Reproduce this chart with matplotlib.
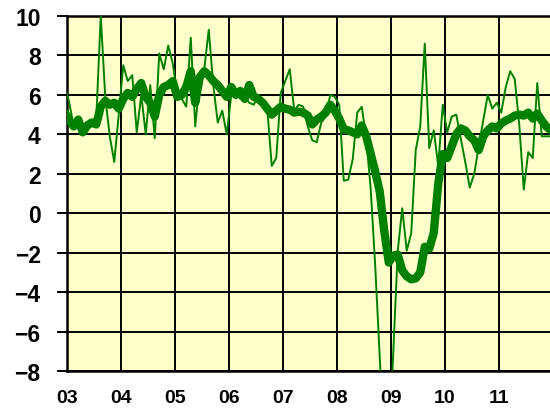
import numpy as np
import matplotlib
matplotlib.use("Agg")
import matplotlib.pyplot as plt

# monthly series, Dec 2002 .. Dec 2011 (first point is clipped by the axis)
monthly = [6.5,
    5.6, 4.4, 4.6, 4.2, 4.5, 4.4, 4.8, 10.0, 5.9, 3.9, 2.6, 5.0,      # 2003
    7.5, 6.7, 7.0, 4.1, 6.0, 4.0, 6.5, 3.8, 8.1, 7.3, 8.5, 7.6,       # 2004
    6.0, 5.8, 5.4, 8.9, 4.4, 6.8, 7.3, 9.3, 6.5, 4.6, 5.2, 4.0,       # 2005
    6.0, 6.1, 5.8, 5.9, 5.6, 5.5, 6.0, 5.6, 5.3, 2.4, 2.8, 6.1,       # 2006
    6.7, 7.3, 5.2, 5.5, 5.4, 4.4, 3.7, 3.6, 4.6, 4.9, 6.0, 5.9,       # 2007
    5.5, 1.65, 1.7, 2.75, 5.1, 5.4, 3.8, 1.2, -2.7, -7.3, -12.0, -12.0,  # 2008
    -7.1, -1.9, 0.25, -1.9, -1.0, 3.2, 4.4, 8.6, 3.3, 4.2, 2.4, 5.5,  # 2009
    4.1, 4.9, 5.0, 3.8, 2.6, 1.3, 2.0, 3.4, 4.7, 6.0, 5.3, 5.6,       # 2010
    5.1, 6.4, 7.2, 6.8, 4.5, 1.2, 3.1, 2.8, 6.6, 3.9, 3.9, 3.9]       # 2011

# smoothed series (thick line)
smoothed = [5.1,
    4.7, 4.4, 4.75, 4.1, 4.45, 4.6, 4.5, 5.4, 5.7, 5.5, 5.6, 5.3,
    5.8, 6.1, 5.9, 6.3, 6.6, 5.9, 5.6, 4.9, 6.0, 6.4, 6.5, 6.7,
    5.9, 6.0, 6.4, 7.2, 5.6, 6.9, 7.2, 7.0, 6.7, 6.5, 6.2, 5.9,
    6.4, 6.0, 6.2, 5.8, 6.5, 5.9, 5.8, 5.6, 5.3, 5.0, 5.2, 5.4,
    5.3, 5.25, 5.1, 5.15, 5.1, 4.95, 4.5, 4.75, 4.9, 5.1, 5.5, 5.2,
    4.8, 4.25, 4.2, 4.1, 4.0, 4.45, 3.9, 3.0, 2.1, 1.1, -0.9, -2.5,
    -2.15, -2.1, -2.9, -3.2, -3.35, -3.3, -3.0, -1.7, -1.8, -1.0, 1.5, 3.0,
    2.8, 3.4, 4.0, 4.3, 4.2, 3.9, 3.7, 3.2, 3.9, 4.2, 4.4, 4.3,
    4.55, 4.7, 4.8, 4.95, 5.0, 4.95, 5.1, 4.8, 5.05, 4.7, 4.4, 4.2]

year_ticks = [2003, 2004, 2005, 2006, 2007, 2008, 2009, 2010, 2011]
year_labels = ['03', '04', '05', '06', '07', '08', '09', '10', '11']
y_ticks = [-8, -6, -4, -2, 0, 2, 4, 6, 8, 10]

# mid-month positions
t = 2003 + (np.arange(len(monthly)) - 1 + 0.5) / 12.0

fig = plt.figure(figsize=(5.5, 4.1), dpi=100)
ax = fig.add_axes([67/550, 38/410, 486/550, 355/410])
ax.set_facecolor('#FFFFCC')

ax.plot(t, monthly, color='#008000', linewidth=1.4, zorder=3)
ax.plot(t, smoothed, color='#008000', linewidth=6, zorder=4,
        solid_joinstyle='round', solid_capstyle='round')

ax.set_xlim(2003, 2012)
ax.set_ylim(-8, 10)
ax.set_xticks(year_ticks)
ax.set_xticklabels(year_labels)
ax.set_yticks(y_ticks)
ax.grid(True, color='black', linewidth=1.4, zorder=1)
ax.set_axisbelow(True)

for s in ax.spines.values():
    s.set_linewidth(1.8)
    s.set_color('black')

ax.tick_params(axis='y', direction='out', length=7, width=1.4, pad=12,
               labelsize=16.5, colors='black')
ax.tick_params(axis='x', length=0, pad=13, labelsize=14)
for lab in ax.get_xticklabels() + ax.get_yticklabels():
    lab.set_fontfamily('Liberation Sans')
    lab.set_fontweight('bold')

plt.savefig('out.png', dpi=100)
